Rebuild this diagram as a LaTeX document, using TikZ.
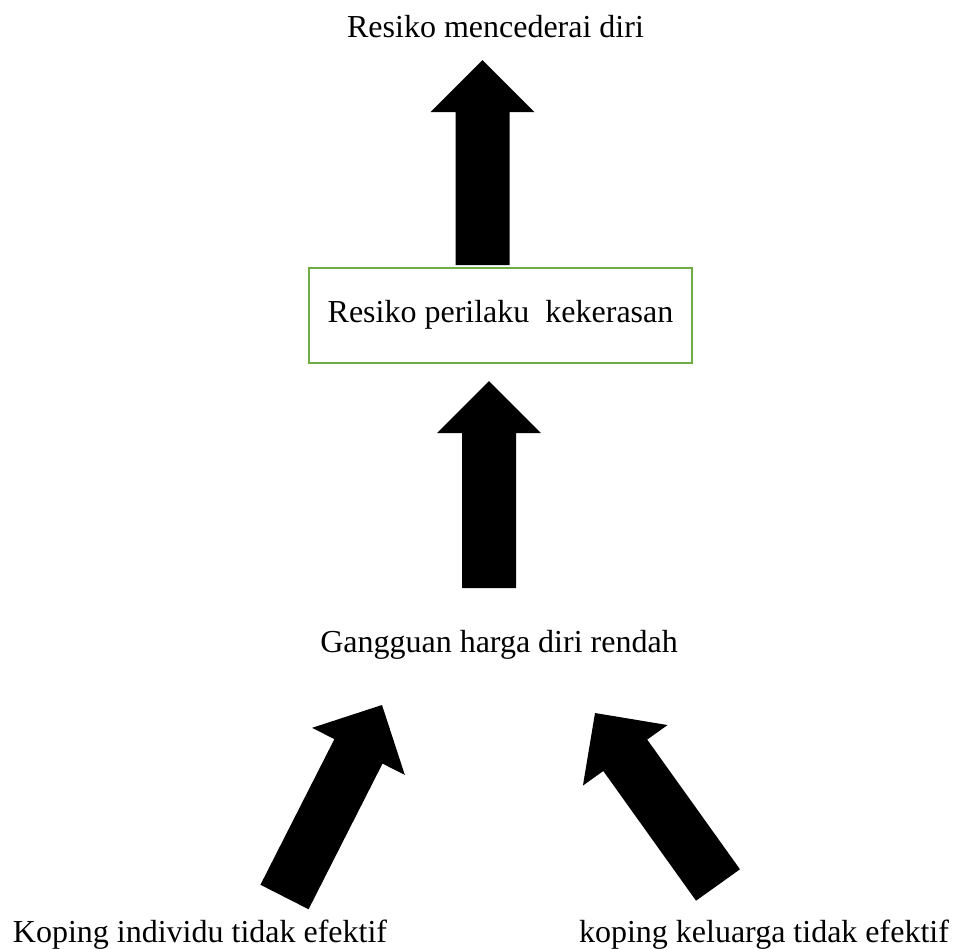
\documentclass[tikz,border=0pt]{standalone}
\usepackage{fontspec}
\setmainfont{Liberation Serif}
\usetikzlibrary{calc, positioning}

\definecolor{boxgreen}{HTML}{70AD47}
\tikzset{
  caption/.style={anchor=base, inner sep=0pt},
  problem box/.style={draw=boxgreen, line width=1pt, minimum width=191.5pt,
    minimum height=47.5pt, text height=11pt, text depth=4.5pt},
}
% thick filled block arrow from #1 (tail) to #2 (tip)
\newcommand{\blockarrow}[2]{%
  \coordinate (hb) at ($(#2)!26pt!(#1)$);
  \fill (#2) -- ($(hb)!26pt!90:(#2)$) -- ($(hb)!13.5pt!90:(#2)$)
    -- ($(#1)!13.5pt!90:(#2)$) -- ($(#1)!13.5pt!-90:(#2)$)
    -- ($(hb)!13.5pt!-90:(#2)$) -- ($(hb)!26pt!-90:(#2)$) -- cycle;
}

\begin{document}
\begin{tikzpicture}[x=0.5pt, y=-0.5pt, font=\fontsize{16}{19}\selectfont]
    \useasboundingbox (0,0) rectangle (971,949);

    \node[caption] (self-harm) at (495.5,37) {Resiko mencederai diri};
    \node[problem box] (violence) at (500.5,315.5) {Resiko perilaku~ kekerasan};
    \node[caption] (low-esteem) at (499,652) {Gangguan harga diri rendah};
    \node[caption] (coping-ind) at (200,942) {Koping individu tidak efektif};
    \node[caption] (coping-fam) at (764,942) {koping keluarga tidak efektif};

    \coordinate (up1-tail) at (482.5,265);
    \coordinate (up1-tip) at (482.5,60);
    \coordinate (up2-tail) at (489,588);
    \coordinate (up2-tip) at (489,381);
    \coordinate (ind-tail) at (284.5,897);
    \coordinate (ind-tip) at (382,705);
    \coordinate (fam-tail) at (718,885);
    \coordinate (fam-tip) at (595,713);

    \foreach \from/\to in {up1-tail/up1-tip, up2-tail/up2-tip,
                           ind-tail/ind-tip, fam-tail/fam-tip} {
      \blockarrow{\from}{\to}
    };
\end{tikzpicture}
\end{document}
